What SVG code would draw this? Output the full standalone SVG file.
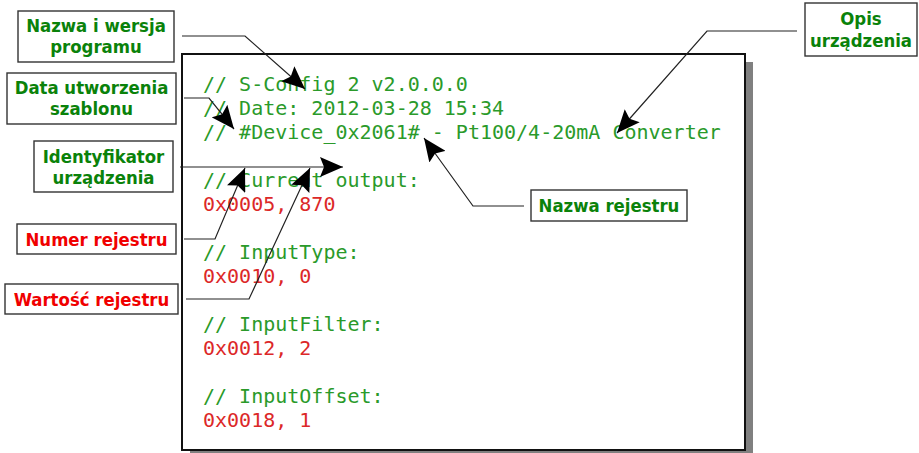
<svg xmlns="http://www.w3.org/2000/svg" width="919" height="453" viewBox="0 0 919 453">
<style>
.lbl{fill:#fff;stroke:#333;stroke-width:1.4}
.lt{font-family:"DejaVu Sans Condensed","DejaVu Sans",sans-serif;font-stretch:condensed;font-weight:bold;font-size:18.4px;text-anchor:middle}
.g{fill:#0a820a}
.r{fill:#f00000}
.code{font-family:"DejaVu Sans Mono","Liberation Mono",monospace;font-size:20px}
.cg{fill:#2a9a2a}
.cr{fill:#dc2828}
.con{fill:none;stroke:#222;stroke-width:1.2;marker-end:url(#ah)}
</style>
<defs>
<marker id="ah" markerUnits="userSpaceOnUse" markerWidth="24" markerHeight="20" refX="23" refY="10" orient="auto">
<path d="M0,0 L23,10 L0,20 L4,10 Z" fill="#000"/>
</marker>
</defs>
<rect width="919" height="453" fill="#fff"/>
<g id="code-panel">
<rect x="190" y="62" width="563" height="396" fill="#808080"/>
<rect x="182" y="54" width="563" height="396" fill="#fff" stroke="#111" stroke-width="2"/>
<g class="code">
<text x="203" y="91" class="cg" xml:space="preserve">// S-Config 2 v2.0.0.0</text>
<text x="203" y="115" class="cg" xml:space="preserve">// Date: 2012-03-28 15:34</text>
<text x="203" y="139" class="cg" xml:space="preserve">// #Device_0x2061# - Pt100/4-20mA Converter</text>
<text x="203" y="187" class="cg" xml:space="preserve">// Current output:</text>
<text x="203" y="211" class="cr" xml:space="preserve">0x0005, 870</text>
<text x="203" y="259" class="cg" xml:space="preserve">// InputType:</text>
<text x="203" y="283" class="cr" xml:space="preserve">0x0010, 0</text>
<text x="203" y="331" class="cg" xml:space="preserve">// InputFilter:</text>
<text x="203" y="355" class="cr" xml:space="preserve">0x0012, 2</text>
<text x="203" y="403" class="cg" xml:space="preserve">// InputOffset:</text>
<text x="203" y="427" class="cr" xml:space="preserve">0x0018, 1</text>
</g>
</g>
<g id="connectors">
<path class="con" d="M182,36 L245,36 L305,89"/>
<path class="con" d="M184,98 L209,98 L234,129"/>
<path class="con" d="M180,167 L343,167"/>
<path class="con" d="M184,239 L215,239 L245,168"/>
<path class="con" d="M186,299 L249,299 L310,168"/>
<path class="con" d="M797,31 L707,31 L617,133"/>
<path class="con" d="M524,206 L473,206 L424,138"/>
</g>
<g id="n-program">
<rect class="lbl" x="18" y="11" width="156" height="51"/>
<text class="lt g" x="96" y="32">Nazwa i wersja</text>
<text class="lt g" x="96" y="53">programu</text>
</g>
<g id="n-data">
<rect class="lbl" x="7" y="73" width="169" height="51"/>
<text class="lt g" x="91.5" y="94">Data utworzenia</text>
<text class="lt g" x="91.5" y="115">szablonu</text>
</g>
<g id="n-ident">
<rect class="lbl" x="34" y="141" width="139" height="51"/>
<text class="lt g" x="103.5" y="163">Identyfikator</text>
<text class="lt g" x="103.5" y="184">urządzenia</text>
</g>
<g id="n-numer">
<rect class="lbl" x="17" y="224" width="159" height="30"/>
<text class="lt r" x="96.5" y="246">Numer rejestru</text>
</g>
<g id="n-wartosc">
<rect class="lbl" x="5" y="284" width="173" height="30"/>
<text class="lt r" x="91.5" y="306">Wartość rejestru</text>
</g>
<g id="n-opis">
<rect class="lbl" x="805" y="3" width="112" height="53"/>
<text class="lt g" x="861" y="25">Opis</text>
<text class="lt g" x="861" y="47">urządzenia</text>
</g>
<g id="n-nazwa-rej">
<rect class="lbl" x="531" y="190" width="156" height="31"/>
<text class="lt g" x="609" y="212">Nazwa rejestru</text>
</g>
</svg>
